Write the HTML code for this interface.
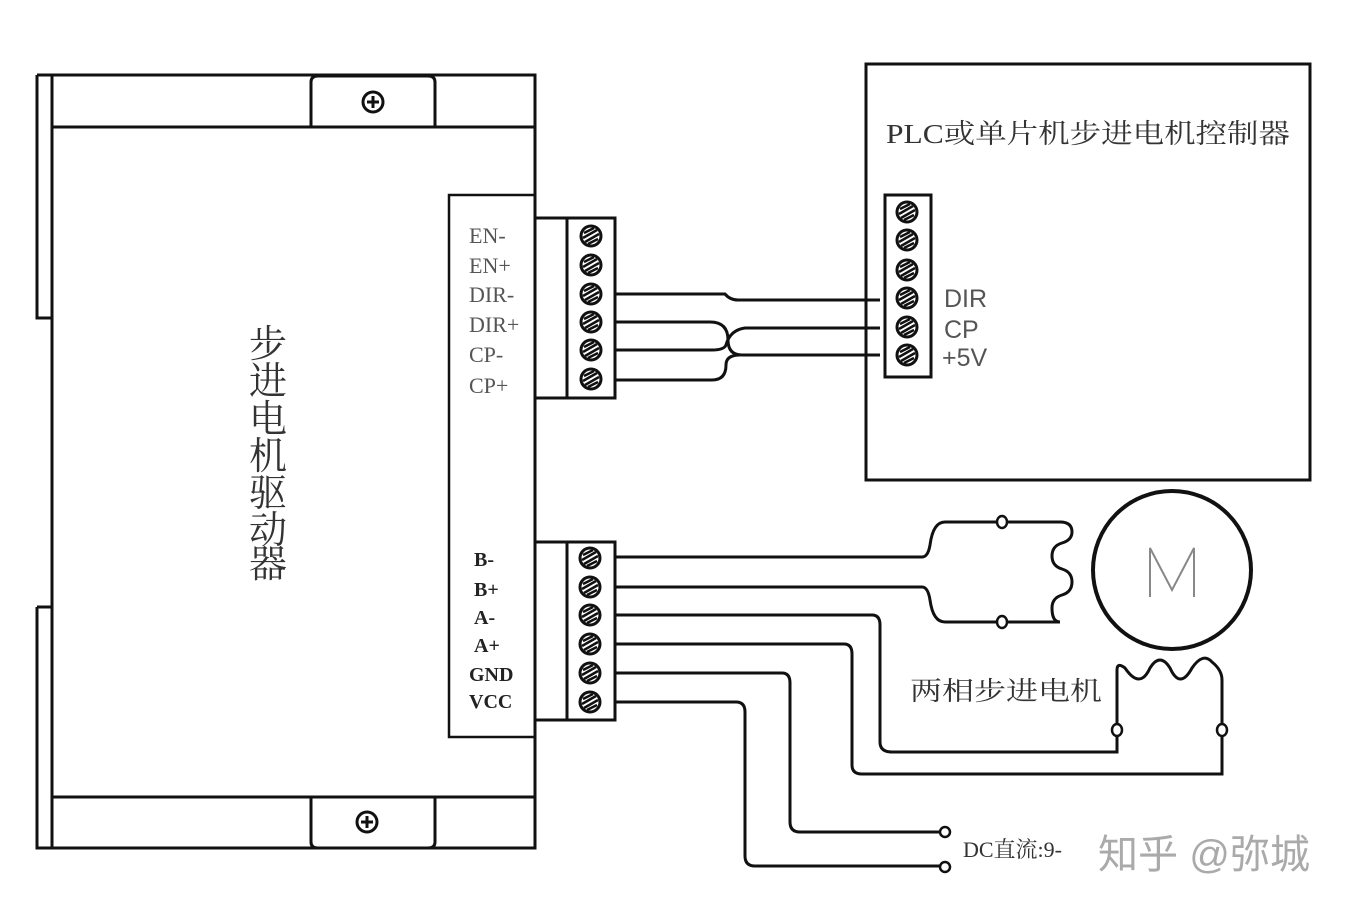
<!DOCTYPE html>
<html><head><meta charset="utf-8"><style>
html,body{margin:0;padding:0;background:#fff;}
svg{display:block;}
text{font-family:"Liberation Serif","Noto Serif CJK SC",serif;}
</style></head><body>
<svg width="1345" height="912" viewBox="0 0 1345 912" xmlns="http://www.w3.org/2000/svg">
<defs>
<g id="scr"><circle r="10" fill="#fff" stroke="#111" stroke-width="3"/><path d="M-7,-3 L3,-8 M-8,2 L6,-6 M-6,6 L8,-2 M-3,8 L7,3" stroke="#111" stroke-width="2.5"/></g>
</defs>
<g fill="none" stroke="#111" stroke-width="3">
<path d="M37,75 H535 V848 H37 V607 M37,318 V75"/>
<path d="M37,75 V318 H52 M37,607 H52"/>
<line x1="52" y1="75" x2="52" y2="848"/>
<line x1="52" y1="127" x2="535" y2="127"/>
<line x1="52" y1="797" x2="535" y2="797"/>
<path d="M311,127 V82 Q311,76 318,76 H428 Q435,76 435,82 V127"/>
<path d="M311,797 V842 Q311,848 318,848 H428 Q435,848 435,842 V797"/>
<circle cx="373" cy="102" r="10"/><path d="M367,102 H379 M373,96 V108"/>
<circle cx="367" cy="822" r="10"/><path d="M361,822 H373 M367,816 V828"/>
<rect x="449" y="195" width="86" height="542" stroke-width="2.5"/>
<rect x="535" y="218" width="80" height="180"/><line x1="567" y1="218" x2="567" y2="398"/>
<rect x="535" y="542" width="80" height="178"/><line x1="567" y1="542" x2="567" y2="720"/>
<rect x="866" y="64" width="444" height="416"/>
<rect x="885" y="195" width="46" height="182"/>
<path d="M615,294 H725 Q730,300 738,300 H880"/>
<path d="M615,322 H710 Q728,322 728,340 Q728,355 742,355 H880"/>
<path d="M615,350 H712 Q724,350 726,345 Q730,330 745,328 H880"/>
<path d="M615,380 H712 Q726,380 726,365 Q726,355 740,355"/>
<circle cx="1172" cy="570" r="79" stroke-width="4"/>
<path d="M1150,597 V548 L1172,590 L1194,548 V597" stroke="#888" stroke-width="2"/>
<path d="M615,557 H922 Q928,557 930,545 Q933,522 945,522 H1060 Q1072,522 1072,532 Q1072,540 1062,543 Q1052,546 1052,556 Q1052,566 1062,569 Q1072,572 1072,582 Q1072,592 1062,595 Q1052,598 1052,608 Q1052,622 1060,622 H945 Q933,622 930,600 Q928,587 922,587 H615"/>
<path d="M615,615 H872 Q880,615 880,625 V742 Q880,752 892,752 H1117 V730"/>
<path d="M615,644 H844 Q852,644 852,654 V765 Q852,774 862,774 H1222 V730"/>
<path d="M1117,730 V670 Q1117,662 1125,668 Q1140,690 1150,668 Q1160,652 1170,668 Q1180,690 1192,668 Q1203,652 1212,662 Q1222,670 1222,680 V730"/>
<path d="M615,673 H782 Q790,673 790,683 V822 Q790,832 800,832 H940"/>
<path d="M615,702 H736 Q745,702 745,712 V856 Q745,866 755,866 H940"/>
</g>
<g fill="#fff" stroke="#111" stroke-width="2.5">
<ellipse cx="1002" cy="522" rx="5" ry="6"/><ellipse cx="1002" cy="622" rx="5" ry="6"/>
<ellipse cx="1117" cy="730" rx="5" ry="6"/><ellipse cx="1222" cy="730" rx="5" ry="6"/>
<circle cx="945" cy="832" r="5"/><circle cx="945" cy="867" r="5"/>
</g>
<use href="#scr" x="591" y="236"/><use href="#scr" x="591" y="265"/><use href="#scr" x="591" y="294"/>
<use href="#scr" x="591" y="322"/><use href="#scr" x="591" y="350"/><use href="#scr" x="591" y="379"/>
<use href="#scr" x="590" y="558"/><use href="#scr" x="590" y="587"/><use href="#scr" x="590" y="615"/>
<use href="#scr" x="590" y="644"/><use href="#scr" x="590" y="673"/><use href="#scr" x="590" y="702"/>
<use href="#scr" x="907" y="212"/><use href="#scr" x="907" y="240"/><use href="#scr" x="907" y="270"/>
<use href="#scr" x="907" y="298"/><use href="#scr" x="907" y="327"/><use href="#scr" x="907" y="355"/>
<g font-size="22" fill="#555">
<text x="469" y="243">EN-</text><text x="469" y="273">EN+</text><text x="469" y="302">DIR-</text>
<text x="469" y="332">DIR+</text><text x="469" y="362">CP-</text><text x="469" y="393">CP+</text>
</g>
<g font-size="20" font-weight="bold" fill="#222">
<text x="474" y="566">B-</text><text x="474" y="596">B+</text><text x="474" y="624">A-</text>
<text x="474" y="652">A+</text><text x="469" y="681">GND</text><text x="469" y="708">VCC</text>
</g>
<g font-size="25" fill="#555">
<text x="944" y="307" style="font-family:'Liberation Sans',sans-serif">DIR</text>
<text x="944" y="338" style="font-family:'Liberation Sans',sans-serif">CP</text>
<text x="942" y="366" style="font-family:'Liberation Sans',sans-serif">+5V</text>
</g>
<text x="886" y="143" font-size="27" fill="#333" textLength="404" lengthAdjust="spacingAndGlyphs">PLC或单片机步进电机控制器</text>
<g font-size="38" fill="#333" text-anchor="middle">
<text x="268" y="357">步</text><text x="268" y="394">进</text><text x="268" y="432">电</text>
<text x="268" y="469">机</text><text x="268" y="506">驱</text><text x="268" y="543">动</text><text x="268" y="577">器</text>
</g>
<text x="910" y="700" font-size="26" fill="#333" textLength="192" lengthAdjust="spacingAndGlyphs">两相步进电机</text>
<text x="963" y="857" font-size="22" fill="#333">DC直流:9-</text>
<text x="1098" y="868" font-size="40" fill="#aaa" style="font-family:'Liberation Sans','Noto Sans CJK SC',sans-serif" textLength="212" lengthAdjust="spacingAndGlyphs">知乎 @弥城</text>
</svg>
</body></html>
